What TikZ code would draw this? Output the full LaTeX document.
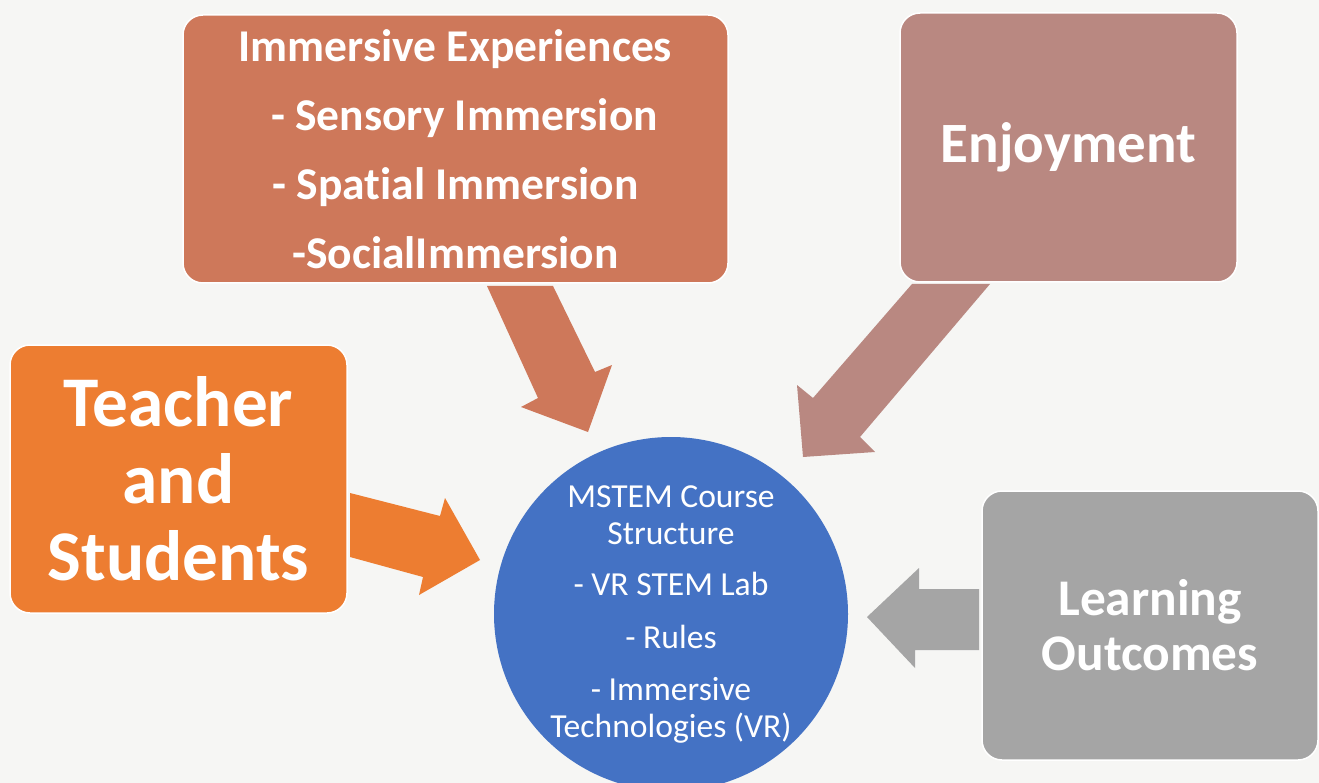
\documentclass[tikz,border=0pt]{standalone}
\usepackage{fontspec}
\setmainfont{Carlito}[Ligatures=NoCommon]
\definecolor{bgc}{RGB}{246,246,244}
\definecolor{immc}{RGB}{206,120,90}
\definecolor{enjc}{RGB}{185,136,129}
\definecolor{teac}{RGB}{237,125,49}
\definecolor{lrnc}{RGB}{165,165,165}
\definecolor{circ}{RGB}{68,114,196}
\begin{document}
\begin{tikzpicture}[x=1pt,y=-1pt,
  boxnode/.style={rectangle, rounded corners=20pt, draw=white, line width=1.5pt,
    text=white, align=center, inner sep=0pt}]
\useasboundingbox (0,0) rectangle (1319,783);
\fill[bgc] (0,0) rectangle (1319,783);
% block arrows
\fill[immc] (487,286) -- (553,286) -- (595,372) -- (612,365) -- (588,432) -- (521,407) -- (538,398) -- cycle;
\fill[enjc] (912,284) -- (990,284) -- (860,437) -- (875,452) -- (803,457) -- (797,385) -- (813,398) -- cycle;
\fill[teac] (350,493) -- (440,516) -- (445,498) -- (480,560) -- (419,595) -- (423,577) -- (350,557) -- cycle;
\fill[lrnc] (979,589) -- (919,589) -- (919,568) -- (867,617) -- (915,668) -- (915,650) -- (979,650) -- cycle;
% boxes
\node[boxnode, fill=immc, minimum width=545pt, minimum height=268pt,
  font=\fontsize{45.5}{69}\selectfont\bfseries] (imm) at (455.5,149)
  {Immersive Experiences\\\hspace*{18pt}- Sensory Immersion\\- Spatial Immersion\\-SocialImmersion};
\node[boxnode, fill=enjc, minimum width=337pt, minimum height=269pt,
  font=\fontsize{57}{60}\selectfont\bfseries] (enj) at (1068.5,147.5) {Enjoyment};
\node[boxnode, fill=teac, minimum width=337pt, minimum height=268pt,
  font=\fontsize{71.3}{77}\selectfont\bfseries] (teach) at (178.5,479) {Teacher\\and\\Students};
\node[boxnode, fill=lrnc, minimum width=336pt, minimum height=269pt,
  font=\fontsize{51.4}{55}\selectfont\bfseries] (learn) at (1150,625.5) {Learning\\Outcomes};
% central circle
\node[circle, fill=circ, minimum size=354pt, inner sep=0pt] (mstem) at (671,614) {};
\node[text=white, align=center, inner sep=0pt, font=\fontsize{33.6}{37}\selectfont] (mstemtxt) at (mstem.center)
  {MSTEM Course\\Structure\\[14pt]- VR STEM Lab\\[16pt]- Rules\\[15pt]- Immersive\\Technologies (VR)};
\end{tikzpicture}
\end{document}
